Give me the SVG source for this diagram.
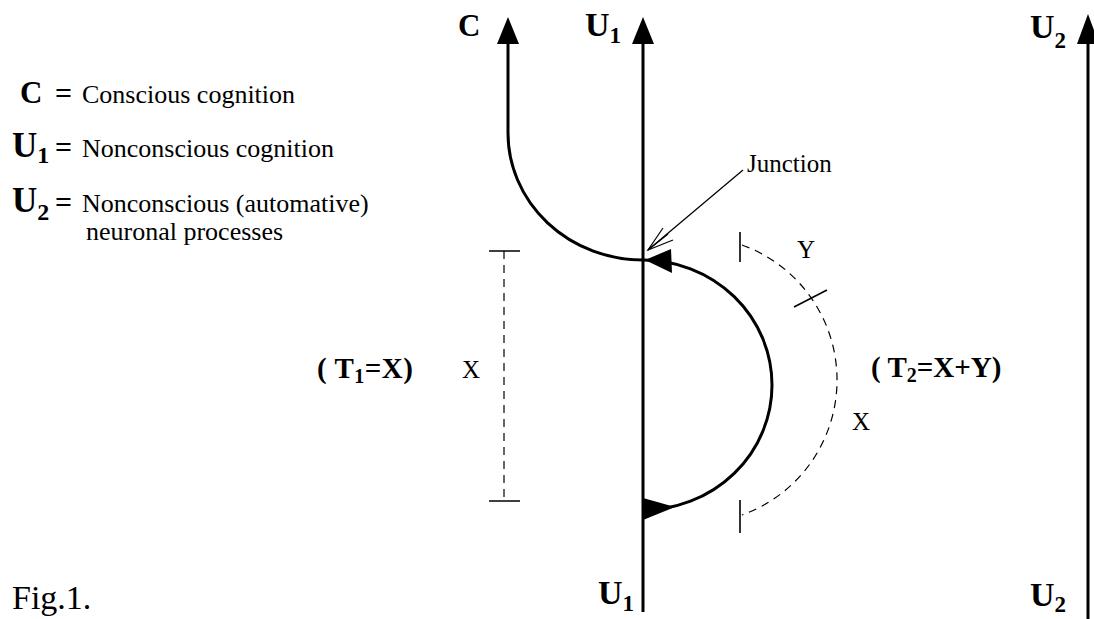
<svg xmlns="http://www.w3.org/2000/svg" width="1094" height="619" viewBox="0 0 1094 619">
<style>
text{font-family:"Liberation Serif","Times New Roman",serif;fill:#000}
.b{font-weight:bold}
.r{font-size:26px}
.lbl{font-size:25px}
.main{fill:none;stroke:#000;stroke-width:3}
.dash{fill:none;stroke:#000;stroke-width:1.2;stroke-dasharray:8 6}
.tick{stroke:#000;stroke-width:1.6}
.head{fill:#000;stroke:none}
.thin{fill:none;stroke:#000;stroke-width:1.2}
</style>
<rect width="1094" height="619" fill="#fff"/>

<g id="legend">
  <text x="20" y="103" class="b" font-size="31">C</text>
  <text x="55" y="103" class="b" font-size="30">=</text>
  <text x="82" y="103" class="r">Conscious cognition</text>
  <text x="12" y="157" class="b" font-size="35">U<tspan font-size="24" dy="6">1</tspan></text>
  <text x="55" y="157" class="b" font-size="30">=</text>
  <text x="82" y="157" class="r">Nonconscious cognition</text>
  <text x="12" y="212" class="b" font-size="35">U<tspan font-size="24" dy="8">2</tspan></text>
  <text x="55" y="212" class="b" font-size="30">=</text>
  <text x="82" y="212" class="r">Nonconscious (automative)</text>
  <text x="86" y="240" class="r">neuronal processes</text>
</g>

<g id="connectors">
  <path class="main" d="M508,40 V133 A135,127 0 0 0 643,260"/>
  <path class="main" d="M643,40 V612"/>
  <path class="main" d="M1088,40 V619"/>
  <path class="main" d="M643,510 A129,125 0 0 0 643,260"/>
  <polygon class="head" points="508,17 497,44 519,44"/>
  <polygon class="head" points="643,17 632,44 654,44"/>
  <polygon class="head" points="1088,14 1077,44 1099,44"/>
  <polygon class="head" points="645,260 671,249 672,273"/>
  <polygon class="head" points="643,498 643,520 675,507"/>
  <path class="thin" d="M743,170 L648,250"/>
  <path class="thin" d="M663,228 L648,250 L673,240"/>
  <path class="thin" d="M668,234 L648,250"/>
</g>

<g id="t1-measure">
  <path class="dash" d="M504,251 V501"/>
  <path class="tick" d="M489,251 H520 M489,501 H520"/>
  <text x="462" y="378" class="lbl">X</text>
  <text x="317" y="378" class="b" font-size="29" letter-spacing="0.5">( T<tspan font-size="20" dy="5">1</tspan><tspan dy="-5">=X)</tspan></text>
</g>

<g id="t2-measure">
  <path class="dash" d="M742,245 A143.4,143.4 0 0 1 742,515"/>
  <path class="tick" d="M740,232 V262 M740,500 V533 M794,307 L827,290"/>
  <text x="797" y="258" class="lbl">Y</text>
  <text x="852" y="430" class="lbl">X</text>
  <text x="871" y="377" class="b" font-size="29">( T<tspan font-size="20" dy="5">2</tspan><tspan dy="-5">=X+Y)</tspan></text>
</g>

<g id="label-junction">
  <text x="747" y="172" class="lbl">Junction</text>
</g>

<g id="node-C-top"><text x="458" y="36" class="b" font-size="31">C</text></g>
<g id="node-U1-top"><text x="585" y="36" class="b" font-size="34">U<tspan font-size="23" dy="7">1</tspan></text></g>
<g id="node-U2-top"><text x="1030" y="38" class="b" font-size="34">U<tspan font-size="23" dy="10">2</tspan></text></g>
<g id="node-U1-bottom"><text x="598" y="604" class="b" font-size="34">U<tspan font-size="23" dy="7">1</tspan></text></g>
<g id="node-U2-bottom"><text x="1030" y="606" class="b" font-size="34">U<tspan font-size="23" dy="6">2</tspan></text></g>

<g id="caption"><text x="12" y="609" font-size="34">Fig.1.</text></g>
</svg>
